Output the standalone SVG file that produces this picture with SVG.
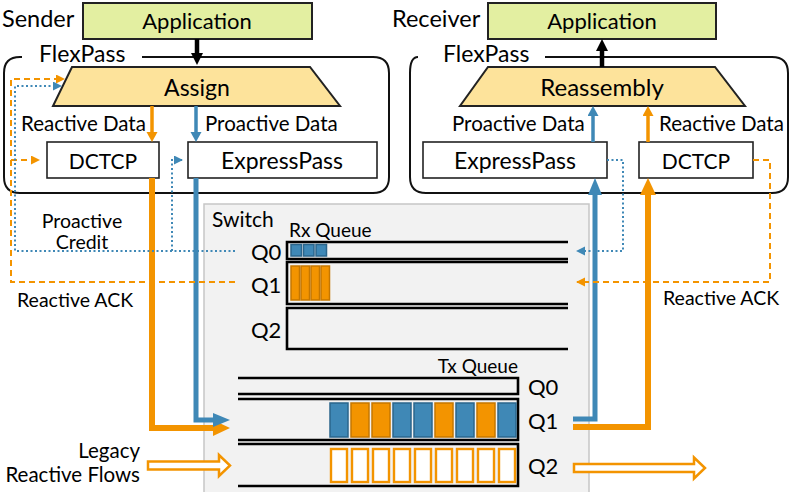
<svg xmlns="http://www.w3.org/2000/svg" width="800" height="492" viewBox="0 0 800 492">
<style>
text{font-family:Lato,"Liberation Sans",sans-serif;fill:#000}
.t23{font-size:23px}
.t22{font-size:22px}
.lab{font-size:20.5px}
.t20{font-size:19.5px}
.q{font-size:22px}
.app{fill:#e3efa1;stroke:#222;stroke-width:2}
.trap{fill:#fde39b;stroke:#222;stroke-width:2}
.box{fill:#fff;stroke:#222;stroke-width:1.6}
.fp{fill:none;stroke:#111;stroke-width:2}
.ql{fill:none;stroke:#000;stroke-width:2.6}
.pb{fill:#3f88b6;stroke:#2b668c;stroke-width:1.5}
.po{fill:#f39400;stroke:#c57700;stroke-width:1.5}
.pw{fill:#fff;stroke:#f39400;stroke-width:2.4}
.ob{fill:none;stroke:#f39400;stroke-width:6}
.bb{fill:none;stroke:#3f88b6;stroke-width:5}
.os{fill:none;stroke:#f39400;stroke-width:3.5}
.bs{fill:none;stroke:#3f88b6;stroke-width:3.5}
.od{fill:none;stroke:#f39400;stroke-width:2;stroke-dasharray:6 4}
.bd{fill:none;stroke:#3f88b6;stroke-width:2;stroke-dasharray:2 2.5}
.hollow{fill:#fff;stroke:#f39400;stroke-width:2.5}
</style>
<defs>
<marker id="mOB" markerUnits="userSpaceOnUse" markerWidth="18" markerHeight="18" refX="9" refY="8" orient="auto"><path d="M0,0 L17,8 L0,16 z" fill="#f39400"/></marker>
<marker id="mBB" markerUnits="userSpaceOnUse" markerWidth="18" markerHeight="16" refX="9" refY="7" orient="auto"><path d="M0,0 L17,7 L0,14 z" fill="#3f88b6"/></marker>
<marker id="mOS" markerUnits="userSpaceOnUse" markerWidth="12" markerHeight="12" refX="5" refY="5.5" orient="auto"><path d="M0,0 L10,5.5 L0,11 z" fill="#f39400"/></marker>
<marker id="mBS" markerUnits="userSpaceOnUse" markerWidth="12" markerHeight="12" refX="5" refY="5.5" orient="auto"><path d="M0,0 L10,5.5 L0,11 z" fill="#3f88b6"/></marker>
<marker id="mOD" markerUnits="userSpaceOnUse" markerWidth="10" markerHeight="10" refX="8" refY="4.5" orient="auto"><path d="M0,0 L9,4.5 L0,9 z" fill="#f39400"/></marker>
<marker id="mBD" markerUnits="userSpaceOnUse" markerWidth="10" markerHeight="10" refX="8" refY="4.5" orient="auto"><path d="M0,0 L9,4.5 L0,9 z" fill="#3f88b6"/></marker>
<marker id="mK" markerUnits="userSpaceOnUse" markerWidth="14" markerHeight="14" refX="6" refY="6" orient="auto"><path d="M0,0 L12,6 L0,12 z" fill="#000"/></marker>
</defs>

<!-- Switch -->
<g id="switch">
<rect x="204" y="204" width="385" height="290" fill="#f2f2f2" stroke="#c6c6c6" stroke-width="1.5"/>
<text x="212" y="227" style="font-size:21px">Switch</text>
<text x="289" y="237" style="font-size:19px">Rx Queue</text>
<text x="518" y="373" text-anchor="end" style="font-size:19px">Tx Queue</text>
<text x="251" y="260" class="q">Q0</text>
<text x="251" y="293" class="q">Q1</text>
<text x="251" y="338" class="q">Q2</text>
<text x="528" y="395" class="q">Q0</text>
<text x="528" y="429" class="q">Q1</text>
<text x="528" y="474" class="q">Q2</text>
</g>
<g id="rx-q0">
<path class="ql" d="M568,242 H287 V259 H568"/>
<rect class="pb" x="291" y="244.5" width="10.5" height="11.5"/>
<rect class="pb" x="303.5" y="244.5" width="10.5" height="11.5"/>
<rect class="pb" x="316" y="244.5" width="10.5" height="11.5"/>
</g>
<g id="rx-q1">
<path class="ql" d="M568,262 H287 V304 H568"/>
<rect class="po" x="291" y="266" width="8.5" height="34"/>
<rect class="po" x="301" y="266" width="8.5" height="34"/>
<rect class="po" x="311" y="266" width="8.5" height="34"/>
<rect class="po" x="321" y="266" width="8.5" height="34"/>
</g>
<g id="rx-q2">
<path class="ql" d="M568,308 H287 V349 H568"/>
</g>
<g id="tx-q0">
<path class="ql" d="M238,378 H518 V394 H238"/>
</g>
<g id="tx-q1">
<path class="ql" d="M238,399 H518 V440 H238"/>
<rect class="pb" x="330" y="403" width="18" height="34"/>
<rect class="po" x="351" y="403" width="18" height="34"/>
<rect class="po" x="372" y="403" width="18" height="34"/>
<rect class="pb" x="393" y="403" width="18" height="34"/>
<rect class="pb" x="414" y="403" width="18" height="34"/>
<rect class="po" x="435" y="403" width="18" height="34"/>
<rect class="pb" x="456" y="403" width="18" height="34"/>
<rect class="po" x="477" y="403" width="18" height="34"/>
<rect class="pb" x="498" y="403" width="18" height="34"/>
</g>
<g id="tx-q2">
<path class="ql" d="M238,444 H518 V486 H238"/>
<rect class="pw" x="331" y="449" width="16" height="33"/>
<rect class="pw" x="352" y="449" width="16" height="33"/>
<rect class="pw" x="373" y="449" width="16" height="33"/>
<rect class="pw" x="394" y="449" width="16" height="33"/>
<rect class="pw" x="415" y="449" width="16" height="33"/>
<rect class="pw" x="436" y="449" width="16" height="33"/>
<rect class="pw" x="457" y="449" width="16" height="33"/>
<rect class="pw" x="478" y="449" width="16" height="33"/>
<rect class="pw" x="499" y="449" width="16" height="33"/>
</g>

<!-- Sender -->
<g id="sender">
<text x="2" y="27" class="t23" style="font-size:23.5px">Sender</text>
<path class="fp" d="M22,57 H20 Q4,57 4,73 V177 Q4,193 20,193 H373 Q389,193 389,177 V73 Q389,57 373,57 H142"/>
<text x="39" y="62" class="t23">FlexPass</text>
</g>
<g id="s-app"><rect class="app" x="83" y="3" width="229" height="36"/><text x="197" y="29" class="t22" text-anchor="middle">Application</text></g>
<g id="s-assign"><polygon class="trap" points="72,67 310,67 340,106 53,106"/><text x="197" y="96" class="t23" text-anchor="middle">Assign</text></g>
<g id="s-dctcp"><rect class="box" x="47" y="142" width="112" height="36"/><text x="103" y="169" text-anchor="middle" style="font-size:21px">DCTCP</text></g>
<g id="s-xp"><rect class="box" x="188" y="142" width="189" height="36"/><text x="282" y="169" class="t23" text-anchor="middle">ExpressPass</text></g>

<!-- Receiver -->
<g id="receiver">
<text x="392" y="27" class="t23" style="font-size:23.5px">Receiver</text>
<path class="fp" d="M418,57 Q410,57 410,73 V177 Q410,193 426,193 H772 Q788,193 788,177 V73 Q788,57 772,57 H545"/>
<text x="443" y="62" class="t23">FlexPass</text>
</g>
<g id="r-app"><rect class="app" x="488" y="3" width="228" height="36"/><text x="602" y="29" class="t22" text-anchor="middle">Application</text></g>
<g id="r-reasm"><polygon class="trap" points="488,67 715,67 745,106 460,106"/><text x="602" y="96" text-anchor="middle" style="font-size:24px">Reassembly</text></g>
<g id="r-xp"><rect class="box" x="423" y="142" width="184" height="36"/><text x="515" y="169" class="t23" text-anchor="middle">ExpressPass</text></g>
<g id="r-dctcp"><rect class="box" x="639" y="142" width="114" height="36"/><text x="696" y="169" text-anchor="middle" style="font-size:21px">DCTCP</text></g>

<!-- Labels -->
<g id="labels">
<text x="21" y="131" class="lab">Reactive Data</text>
<text x="205" y="131" class="lab">Proactive Data</text>
<text x="452" y="131" class="lab">Proactive Data</text>
<text x="659" y="131" class="lab">Reactive Data</text>
<text x="82" y="228" class="t20" text-anchor="middle">Proactive</text>
<text x="82" y="249" class="t20" text-anchor="middle">Credit</text>
<text x="17" y="307" class="t20">Reactive ACK</text>
<text x="663" y="305" class="t20">Reactive ACK</text>
<text x="140" y="458" text-anchor="end" style="font-size:20.5px">Legacy</text>
<text x="140" y="482" text-anchor="end" style="font-size:20.5px">Reactive Flows</text>
</g>

<!-- Connectors -->
<g id="connectors">
<path d="M197,39 V59" stroke="#000" stroke-width="4.5" fill="none" marker-end="url(#mK)"/>
<path d="M602,67 V45" stroke="#000" stroke-width="4.5" fill="none" marker-end="url(#mK)"/>
<path class="os" d="M152,106 V137" marker-end="url(#mOS)"/>
<path class="bs" d="M196,106 V137" marker-end="url(#mBS)"/>
<path class="bs" d="M593,142 V111" marker-end="url(#mBS)"/>
<path class="os" d="M648,142 V111" marker-end="url(#mOS)"/>
<path class="ob" d="M152,178 V428 H222" marker-end="url(#mOB)"/>
<path class="bb" d="M196,178 V420 H222" marker-end="url(#mBB)"/>
<path class="ob" d="M573,427 H648 V186" marker-end="url(#mOB)"/>
<path class="bb" d="M573,419 H595 V186" marker-end="url(#mBB)"/>
<path class="od" d="M235,282 H11 V79 H64" marker-end="url(#mOD)"/>
<path class="od" d="M11,160 H39" marker-end="url(#mOD)"/>
<path class="bd" d="M235,251 H15 V86 H61" marker-end="url(#mBD)"/>
<path class="bd" d="M172,251 V160 H182" marker-end="url(#mBD)"/>
<path class="bd" d="M607,160 H623 V251 H577" marker-end="url(#mBD)"/>
<path class="od" d="M753,160 H770 V282 H577" marker-end="url(#mOD)"/>
<polygon class="hollow" points="148,461.5 219,461.5 219,455 230,465.5 219,476 219,469.5 148,469.5"/>
<polygon class="hollow" points="574,464 694,464 694,457.5 705,468 694,478.5 694,472 574,472"/>
</g>
</svg>
